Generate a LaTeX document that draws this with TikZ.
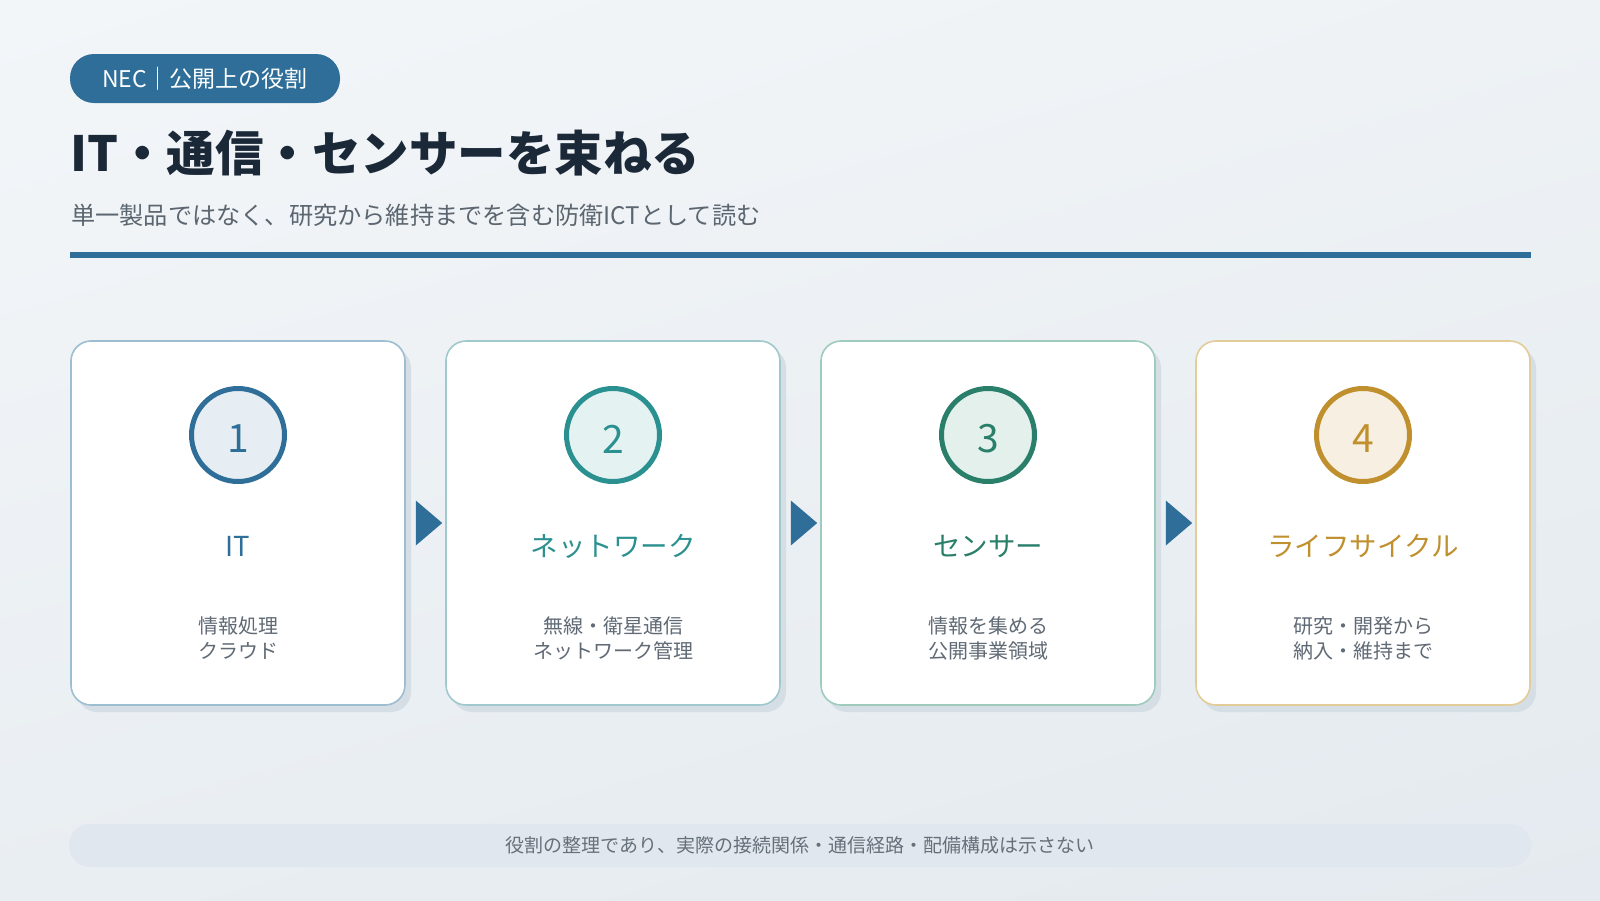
\documentclass[tikz,border=0pt]{standalone}
\usepackage{fontspec}
\setmainfont{Noto Sans CJK JP}
\usetikzlibrary{shadows,shadings}
\definecolor{bgA}{HTML}{F3F6F9}
\definecolor{bgB}{HTML}{EEF2F5}
\definecolor{bgC}{HTML}{E9EEF2}
\definecolor{bgD}{HTML}{E4EAEF}
\definecolor{navy}{HTML}{1B2838}
\definecolor{blue}{HTML}{2E6E98}
\definecolor{subg}{HTML}{5C6670}
\definecolor{descg}{HTML}{606A75}
\definecolor{shadowc}{HTML}{D6DEE5}
\definecolor{footbar}{HTML}{E1E7EE}
\definecolor{foottext}{HTML}{66707A}
\definecolor{bA}{HTML}{9DBDD0}
\definecolor{bB}{HTML}{9FC9CD}
\definecolor{bC}{HTML}{9FCBBE}
\definecolor{bD}{HTML}{E3CC98}
\definecolor{sA}{HTML}{2E6E98}
\definecolor{sB}{HTML}{2A9090}
\definecolor{sC}{HTML}{2A7F6A}
\definecolor{sD}{HTML}{C0902F}
\definecolor{fA}{HTML}{E6EEF3}
\definecolor{fB}{HTML}{E4F2F2}
\definecolor{fC}{HTML}{E3F0EC}
\definecolor{fD}{HTML}{F7F0E2}
\begin{document}
\begin{tikzpicture}[x=1pt,y=-1pt,
  card/.style={draw=#1, line width=1.6pt, fill=white, rounded corners=20pt,
    minimum width=334pt, minimum height=364pt, inner sep=0pt,
    drop shadow={shadow xshift=6pt, shadow yshift=-7pt, fill=shadowc, opacity=1}},
  numc/.style 2 args={circle, draw=#1, fill=#2, line width=5pt, minimum size=93pt,
    inner sep=0pt, text=#1, font=\fontsize{39}{40}\selectfont},
  numtext/.style={text=#1, font=\fontsize{39}{40}\selectfont, inner sep=0pt},
  cardtitle/.style={text=#1, font=\fontsize{27.5}{32}\selectfont},
  desc/.style={text=descg, align=center, font=\fontsize{20}{25}\selectfont},
  flowarrow/.style={fill=blue}
]
\useasboundingbox (0,0) rectangle (1600,900);
\shade[upper left=bgA, upper right=bgB, lower left=bgC, lower right=bgD] (0,0) rectangle (1600,900);

% header
\node[fill=blue, rounded corners=24pt, minimum width=270pt, minimum height=49pt, inner sep=0pt,
  text=white, font=\fontsize{23}{26}\selectfont] (pill) at (205,78.5) {NEC｜公開上の役割};
\node[anchor=west, inner sep=0pt, text=navy, font=\fontsize{48.5}{56}\bfseries\selectfont] (title) at (70,153) {IT・通信・センサーを束ねる};
\node[anchor=west, inner sep=0pt, text=subg, font=\fontsize{24.2}{28}\selectfont] (sub) at (71,215) {単一製品ではなく、研究から維持までを含む防衛ICTとして読む};
\fill[blue] (70,252) rectangle (1531,258);

% cards
\node[card=bA] (c1) at (238,523) {};
\node[card=bB] (c2) at (613,523) {};
\node[card=bC] (c3) at (988,523) {};
\node[card=bD] (c4) at (1363,523) {};

\node[numc={sA}{fA}] (n1) at (238,435) {};
\node[numc={sB}{fB}] (n2) at (613,435) {};
\node[numc={sC}{fC}] (n3) at (988,435) {};
\node[numc={sD}{fD}] (n4) at (1363,435) {};
\node[numtext=sA] (m1) at ([yshift=-4pt]n1.center) {1};
\node[numtext=sB] (m2) at ([yshift=-4pt]n2.center) {2};
\node[numtext=sC] (m3) at ([yshift=-4pt]n3.center) {3};
\node[numtext=sD] (m4) at ([yshift=-4pt]n4.center) {4};

\node[cardtitle=sA] (t1) at (238,546) {IT};
\node[cardtitle=sB] (t2) at (613,546) {ネットワーク};
\node[cardtitle=sC] (t3) at (988,546) {センサー};
\node[cardtitle=sD] (t4) at (1363,546) {ライフサイクル};

\node[desc] (d1) at (238,638) {情報処理\\クラウド};
\node[desc] (d2) at (613,638) {無線・衛星通信\\ネットワーク管理};
\node[desc] (d3) at (988,638) {情報を集める\\公開事業領域};
\node[desc] (d4) at (1363,638) {研究・開発から\\納入・維持まで};

% arrows
\foreach \a/\b in {c1/c2,c2/c3,c3/c4}{
  \fill[flowarrow] ([xshift=10pt,yshift=22.5pt]\a.east) -- ([xshift=10pt,yshift=-22.5pt]\a.east)
    -- ([xshift=-3pt,yshift=0pt]\b.west) -- cycle;
}

% footer
\node[fill=footbar, rounded corners=21pt, minimum width=1462pt, minimum height=43pt, inner sep=0pt,
  text=foottext, font=\fontsize{19}{22}\selectfont] (foot) at (800,845.5)
  {役割の整理であり、実際の接続関係・通信経路・配備構成は示さない};
\end{tikzpicture}
\end{document}
